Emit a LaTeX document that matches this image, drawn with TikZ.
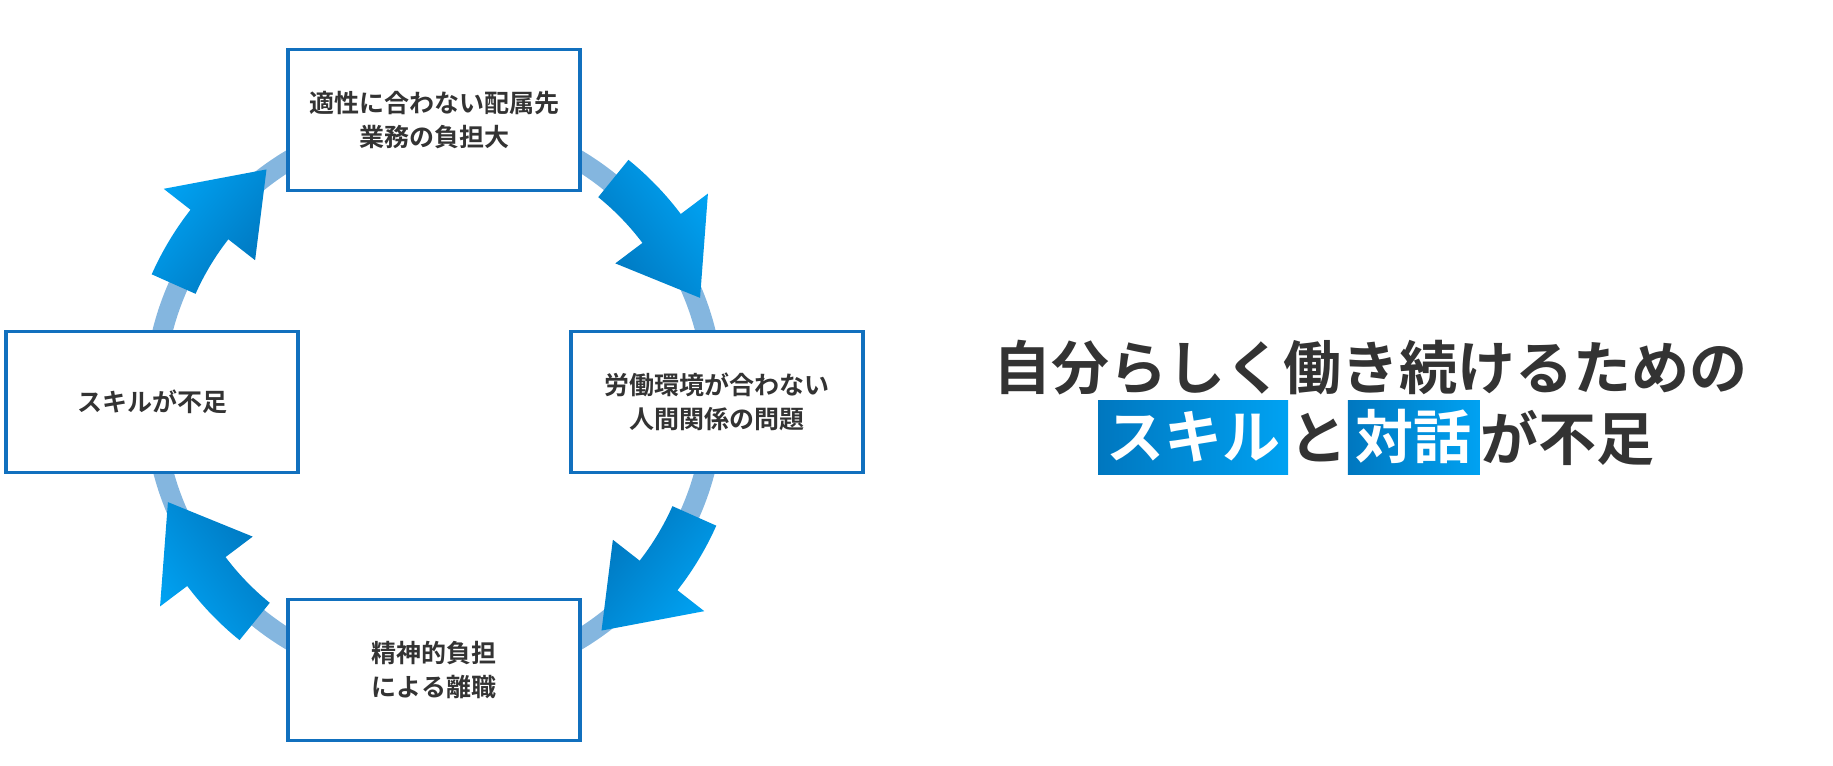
\documentclass[tikz,border=0pt]{standalone}
\usepackage{fontspec}
\setmainfont{Noto Sans CJK JP}[BoldFont={* Bold}]
\begin{document}
\begin{tikzpicture}[x=0.5pt,y=0.5pt,
  box/.style={draw=boxblue,line width=1.6pt,fill=white,minimum width=146pt,minimum height=70.5pt,align=center,font=\fontsize{12.5}{17}\selectfont\bfseries,text=txt},
  hl/.style={left color=dblue,right color=lblue,text=white,inner xsep=4pt,inner ysep=3pt,text height=26pt,text depth=5pt},
  ttl/.style={font=\fontsize{29}{34}\selectfont\bfseries,text=txt}]
\definecolor{boxblue}{HTML}{1170BE}
\definecolor{ring}{HTML}{84B6DF}
\definecolor{dblue}{HTML}{0077BF}
\definecolor{lblue}{HTML}{00A2F2}
\definecolor{txt}{HTML}{333333}
\useasboundingbox (0,0) rectangle (1833,766);
\begin{scope}[shift={(434,366)}]
\draw[ring,line width=10pt] (0,0) circle[radius=280];
\foreach \a in {51,-24,-129,156}{
  \pgfmathsetmacro\m{\a-14}\pgfmathsetmacro\t{\a-30}\pgfmathsetmacro\s{\a-15-90+180}
  \path[left color=dblue,right color=lblue,shading angle=\s]
   (\a:261) -- (\a:309) arc[start angle=\a,end angle=\m,radius=309]
   -- (\m:343) -- (\t:285) -- (\m:227) -- (\m:261)
   arc[start angle=\m,end angle=\a,radius=261] -- cycle;
}
\end{scope}
\node[box] (top) at (434,646) {適性に合わない配属先\\業務の負担大};
\node[box] (right) at (717,364) {労働環境が合わない\\人間関係の問題};
\node[box] (bottom) at (434,96) {精神的負担\\による離職};
\node[box] (left) at (152,364) {スキルが不足};
\node[ttl] (l1) at (1370,398) {自分らしく働き続けるための};
\node[ttl,inner xsep=0pt] (to) at (1318,328) {と};
\node[ttl,hl,anchor=east] (s1) at (to.west) {スキル};
\node[ttl,hl,anchor=west] (s2) at (to.east) {対話};
\node[ttl,inner xsep=0pt,anchor=west] (r) at (s2.east) {が不足};
\end{tikzpicture}
\end{document}
